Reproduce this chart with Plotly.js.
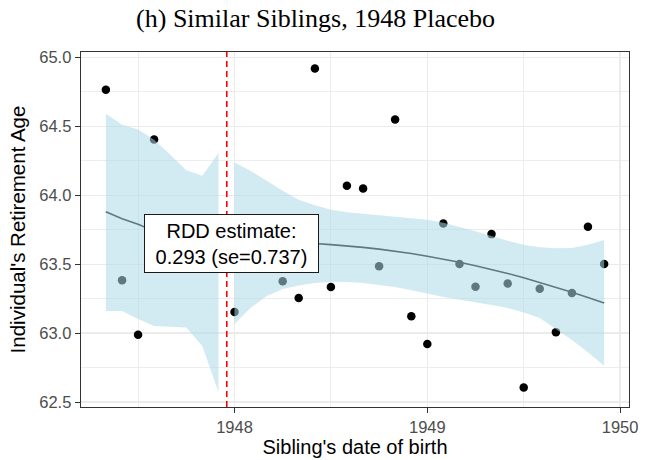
<!DOCTYPE html>
<html>
<head>
<meta charset="utf-8">
<script src="https://cdn.plot.ly/plotly-3.0.1.min.js"></script>
<style>html,body{margin:0;padding:0;background:#fff;}#chart{width:652px;height:460px;}</style>
</head>
<body>
<div id="chart"></div>
<script>
// Binned scatter points (sibling birth month, mean retirement age)
const birthDates = [1947.333, 1947.417, 1947.5, 1947.583, 1948.0, 1948.25, 1948.333, 1948.417, 1948.5, 1948.583, 1948.667, 1948.75, 1948.833, 1948.917, 1949.0, 1949.083, 1949.167, 1949.25, 1949.333, 1949.417, 1949.5, 1949.583, 1949.667, 1949.75, 1949.833, 1949.917];
const retireAge = [64.767, 63.384, 62.989, 64.406, 63.154, 63.377, 63.256, 64.92, 63.336, 64.07, 64.05, 63.486, 64.55, 63.123, 62.922, 63.796, 63.503, 63.338, 63.719, 63.36, 62.607, 63.323, 63.007, 63.292, 63.772, 63.503];

// Fit left of cutoff
const leftX = [1947.333, 1947.417, 1947.5, 1947.583, 1947.667, 1947.75, 1947.833, 1947.917];
const leftFit = [63.881, 63.83, 63.79, 63.74, 63.69, 63.65, 63.6, 63.55];
const leftUpper = [64.593, 64.513, 64.477, 64.404, 64.295, 64.182, 64.142, 64.307];
const leftLower = [63.161, 63.161, 63.103, 63.052, 63.045, 63.041, 62.907, 62.573];

// Fit right of cutoff
const rightX = [1948.0, 1948.083, 1948.167, 1948.25, 1948.333, 1948.417, 1948.5, 1948.583, 1948.667, 1948.75, 1948.833, 1948.917, 1949.0, 1949.083, 1949.167, 1949.25, 1949.333, 1949.417, 1949.5, 1949.583, 1949.667, 1949.75, 1949.833, 1949.917];
const rightFit = [63.656, 63.659, 63.66, 63.659, 63.656, 63.651, 63.643, 63.634, 63.623, 63.61, 63.595, 63.578, 63.559, 63.538, 63.515, 63.49, 63.463, 63.434, 63.403, 63.37, 63.335, 63.298, 63.259, 63.219];
const rightUpper = [64.239, 64.179, 64.106, 64.033, 63.968, 63.928, 63.895, 63.877, 63.866, 63.855, 63.848, 63.837, 63.823, 63.801, 63.772, 63.739, 63.706, 63.67, 63.641, 63.623, 63.616, 63.619, 63.641, 63.677];
const rightLower = [63.067, 63.183, 63.27, 63.321, 63.347, 63.365, 63.374, 63.372, 63.365, 63.35, 63.336, 63.314, 63.289, 63.263, 63.241, 63.223, 63.205, 63.183, 63.15, 63.11, 63.031, 62.951, 62.863, 62.764];

const cutoff = 1947.96;
const xTickVals = [1948, 1949, 1950];
const xTickText = ["1948", "1949", "1950"];
const yTickVals = [62.5, 63.0, 63.5, 64.0, 64.5, 65.0];
const yTickText = ["62.5", "63.0", "63.5", "64.0", "64.5", "65.0"];
const annotationText = "RDD estimate:<br>0.293 (se=0.737)";

function band(xs, up, lo) {
  return {
    x: xs.concat(xs.slice().reverse()),
    y: up.concat(lo.slice().reverse())
  };
}
const bandL = band(leftX, leftUpper, leftLower);
const bandR = band(rightX, rightUpper, rightLower);

const ribbonColor = 'rgba(173,216,230,0.55)';
const data = [
  {x: birthDates, y: retireAge, type: 'scatter', mode: 'markers',
   marker: {color: '#000000', size: 8.5}, hoverinfo: 'skip'},
  {x: leftX, y: leftFit, type: 'scatter', mode: 'lines',
   line: {color: '#000000', width: 1.6}},
  {x: rightX, y: rightFit, type: 'scatter', mode: 'lines',
   line: {color: '#000000', width: 1.6}},
  {x: bandL.x, y: bandL.y, type: 'scatter', mode: 'lines', fill: 'toself',
   fillcolor: ribbonColor, line: {width: 0, color: 'rgba(0,0,0,0)'}},
  {x: bandR.x, y: bandR.y, type: 'scatter', mode: 'lines', fill: 'toself',
   fillcolor: ribbonColor, line: {width: 0, color: 'rgba(0,0,0,0)'}}
];

const gridCol = '#ebebeb';
const layout = {
  width: 652, height: 460,
  margin: {l: 81, r: 23, t: 52, b: 53},
  paper_bgcolor: '#ffffff', plot_bgcolor: '#ffffff',
  showlegend: false,
  font: {family: 'Liberation Sans, Arial, sans-serif', color: '#000'},
  title: {text: '(h) Similar Siblings, 1948 Placebo',
    font: {family: 'Liberation Serif, serif', size: 26, color: '#000'},
    x: 0.484, xanchor: 'center', xref: 'container',
    y: 0.962, yanchor: 'middle', yref: 'container'},
  xaxis: {
    range: [1947.204, 1950.046],
    tickmode: 'array', tickvals: xTickVals, ticktext: xTickText,
    ticks: 'outside', ticklen: 5, tickwidth: 1.2, tickcolor: '#333333',
    tickfont: {size: 16.5, color: '#4d4d4d'},
    showgrid: true, gridcolor: gridCol, gridwidth: 1.6,
    minor: {dtick: 0.5, tick0: 1947.5, showgrid: true, gridcolor: gridCol, gridwidth: 0.9, ticks: ''},
    showline: true, mirror: true, linecolor: '#333333', linewidth: 1.3,
    zeroline: false,
    title: {text: "Sibling's date of birth", font: {size: 20, color: '#000'}, standoff: 3}
  },
  yaxis: {
    range: [62.465, 65.04],
    tickmode: 'array', tickvals: yTickVals, ticktext: yTickText,
    ticks: 'outside', ticklen: 5, tickwidth: 1.2, tickcolor: '#333333',
    tickfont: {size: 16.5, color: '#4d4d4d'},
    showgrid: true, gridcolor: gridCol, gridwidth: 1.6,
    minor: {dtick: 0.25, tick0: 62.75, showgrid: true, gridcolor: gridCol, gridwidth: 0.9, ticks: ''},
    showline: true, mirror: true, linecolor: '#333333', linewidth: 1.3,
    zeroline: false,
    title: {text: "Individual's Retirement Age", font: {size: 20.5, color: '#000'}, standoff: 8}
  },
  shapes: [{
    type: 'line', xref: 'x', yref: 'paper', x0: cutoff, x1: cutoff, y0: 0, y1: 1,
    line: {color: '#ff0000', width: 1.6, dash: '6px,4px'}, layer: 'above'
  }],
  annotations: [{
    x: 1947.983, y: 63.653, xref: 'x', yref: 'y',
    text: annotationText, showarrow: false,
    width: 167, height: 51,
    font: {size: 20, color: '#000', family: 'Liberation Sans, Arial, sans-serif'},
    align: 'center', valign: 'middle',
    bgcolor: '#ffffff', bordercolor: '#1a1a1a', borderwidth: 1, borderpad: 3
  }]
};

Plotly.newPlot('chart', data, layout, {displayModeBar: false, staticPlot: true});
</script>
</body>
</html>
